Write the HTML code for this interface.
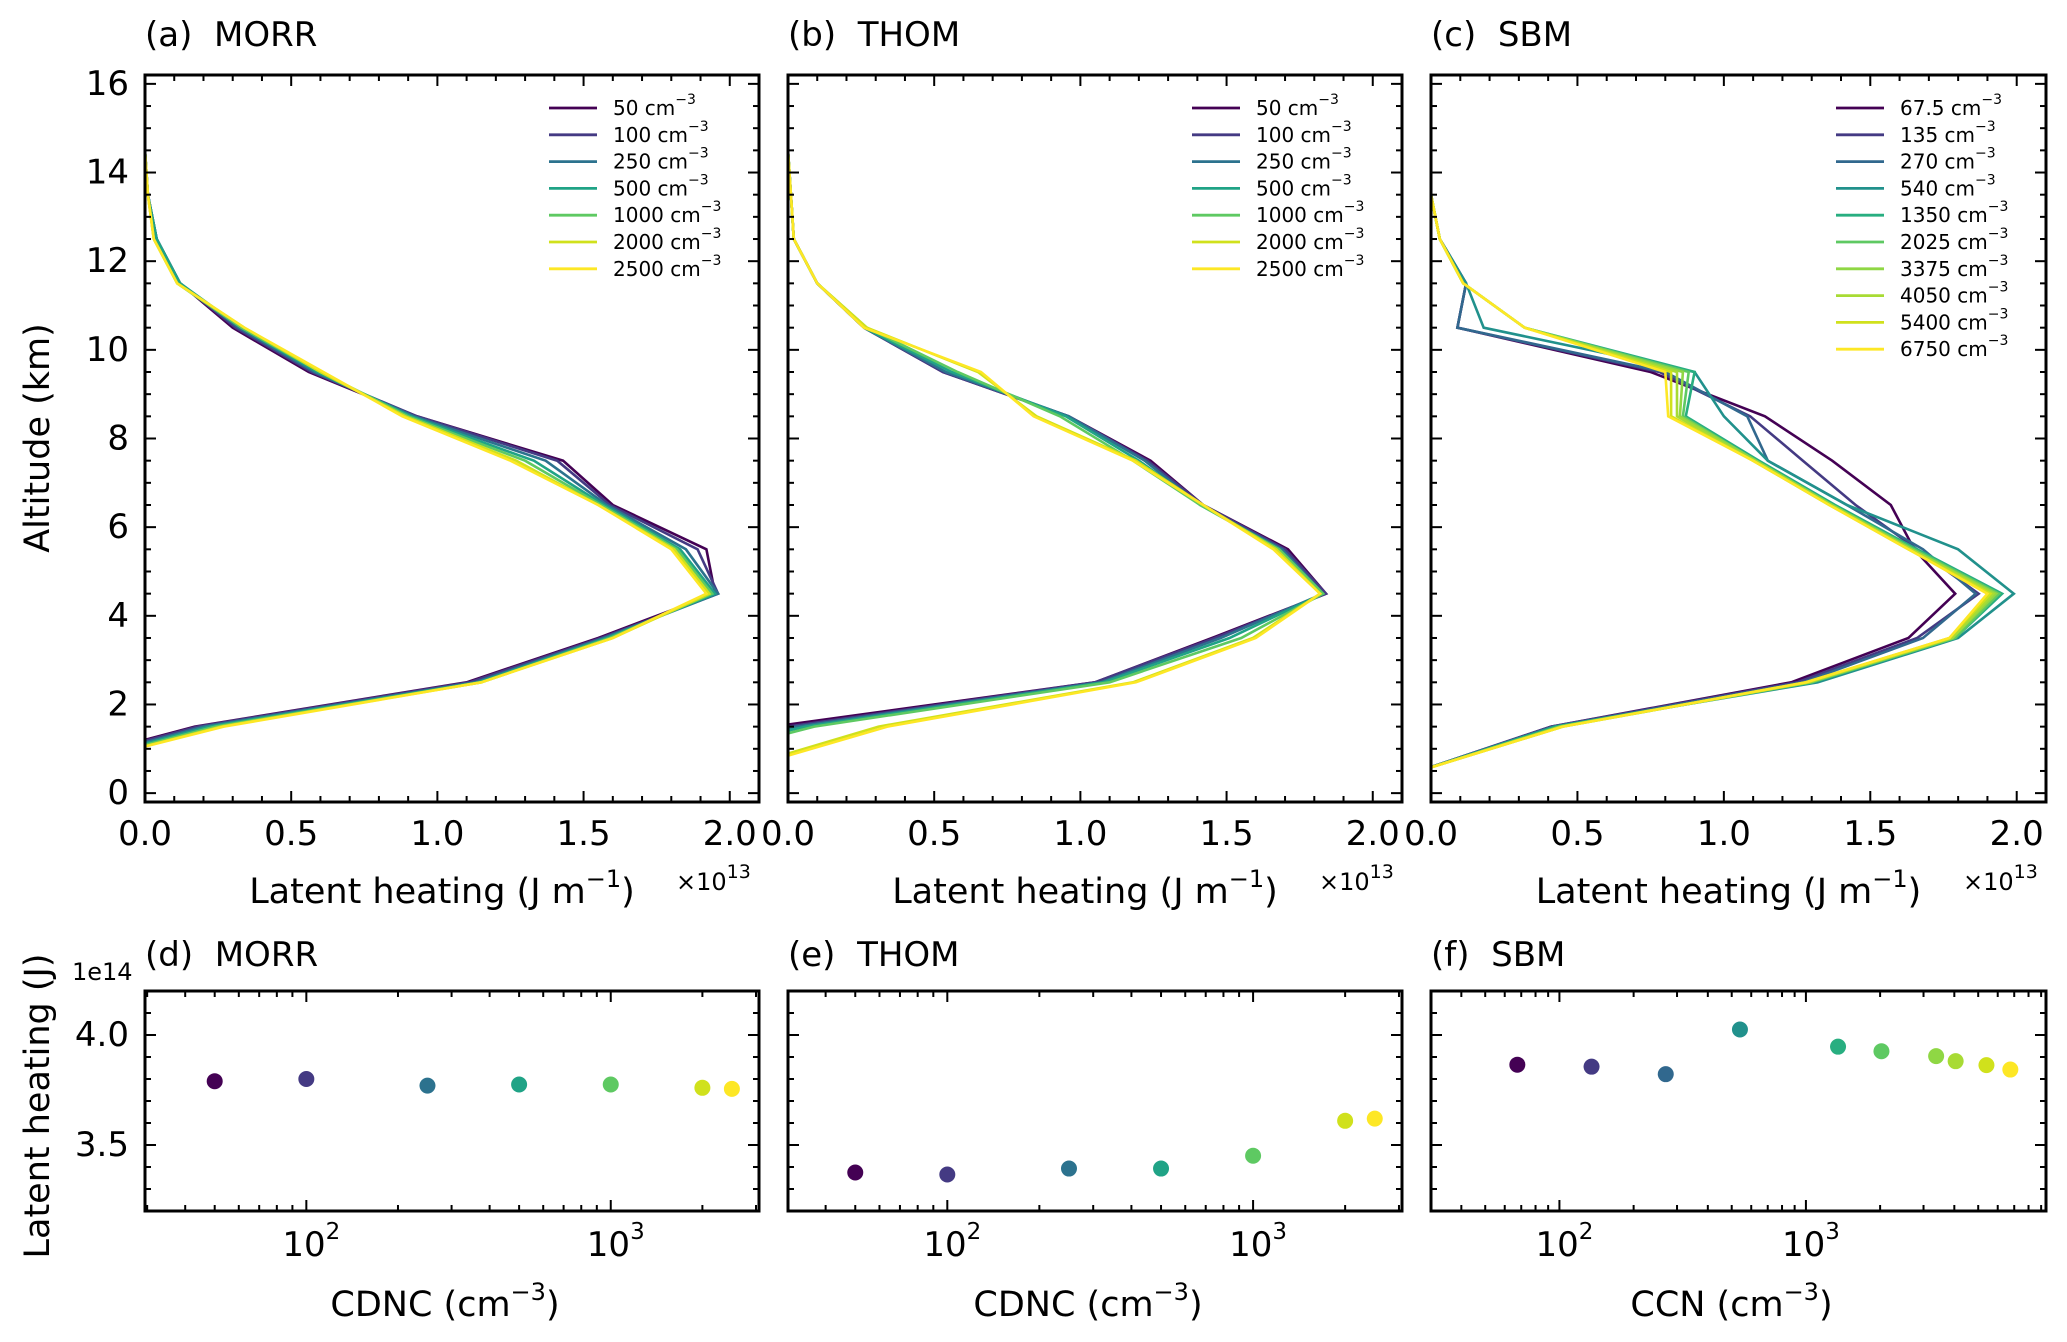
<!DOCTYPE html>
<html><head><meta charset="utf-8"><style>
html,body{margin:0;padding:0;background:#fff;}
svg{display:block;font-family:"DejaVu Sans","Liberation Sans",sans-serif;}
</style></head><body>
<svg id="fig" width="2067" height="1342" viewBox="0 0 2067 1342" xmlns="http://www.w3.org/2000/svg"></svg>
<script>
const levels=[0.5,1.5,2.5,3.5,4.5,5.5,6.5,7.5,8.5,9.5,10.5,11.5,12.5,13.5,14.5,15.5];
const morrLabels=["50","100","250","500","1000","2000","2500"];
const morrColors=["#440154","#443a83","#2c728e","#20a386","#5ec962","#d0e11c","#fde725"];
const morr50=[-0.4,0.17,1.10,1.55,1.95,1.92,1.60,1.43,0.93,0.56,0.30,0.12,0.04,0.01,0,0];
const morr100=[-0.38,0.18,1.11,1.56,1.96,1.89,1.59,1.41,0.93,0.57,0.31,0.12,0.04,0.01,0,0];
const morr250=[-0.36,0.2,1.13,1.57,1.96,1.85,1.58,1.37,0.92,0.58,0.32,0.12,0.04,0.01,0,0];
const morr500=[-0.35,0.22,1.14,1.58,1.95,1.83,1.57,1.33,0.91,0.59,0.33,0.12,0.04,0.01,0,0];
const morr1000=[-0.34,0.24,1.15,1.59,1.94,1.82,1.56,1.30,0.90,0.60,0.33,0.11,0.03,0.01,0,0];
const morr2000=[-0.33,0.26,1.15,1.6,1.93,1.81,1.55,1.27,0.89,0.60,0.34,0.11,0.03,0.01,0,0];
const morr2500=[-0.33,0.27,1.15,1.6,1.92,1.80,1.55,1.25,0.88,0.61,0.34,0.11,0.03,0.01,0,0];
const thom50=[-1.0,-0.05,1.05,1.45,1.84,1.71,1.42,1.24,0.96,0.53,0.26,0.10,0.02,0.01,0,0];
const thom100=[-0.9,0.0,1.05,1.46,1.84,1.70,1.42,1.23,0.96,0.53,0.26,0.10,0.02,0.01,0,0];
const thom250=[-0.8,0.03,1.07,1.48,1.83,1.69,1.41,1.22,0.96,0.54,0.26,0.10,0.02,0.01,0,0];
const thom500=[-0.6,0.06,1.08,1.51,1.83,1.68,1.41,1.20,0.95,0.56,0.26,0.10,0.02,0.01,0,0];
const thom1000=[-0.5,0.09,1.10,1.55,1.83,1.68,1.41,1.18,0.93,0.58,0.27,0.10,0.02,0.01,0,0];
const thom2000=[-0.2,0.31,1.18,1.59,1.82,1.67,1.42,1.19,0.85,0.65,0.27,0.10,0.02,0.01,0,0];
const thom2500=[-0.18,0.34,1.19,1.60,1.82,1.66,1.42,1.18,0.84,0.66,0.26,0.10,0.02,0.01,0,0];
const sbmLabels=["67.5","135","270","540","1350","2025","3375","4050","5400","6750"];
const sbmColors=["#440154","#443a83","#31688e","#21918c","#28ae80","#5ec962","#8fd744","#a8db34","#d0e11c","#fde725"];
const sbm67=[-0.04,0.41,1.23,1.63,1.79,1.65,1.57,1.37,1.14,0.75,0.09,0.12,0.03,0,0,0];
const sbm135=[-0.04,0.41,1.25,1.66,1.87,1.66,1.45,1.27,1.09,0.78,0.09,0.12,0.03,0,0,0];
const sbm270=[-0.04,0.42,1.27,1.68,1.86,1.68,1.42,1.15,1.08,0.80,0.09,0.12,0.03,0,0,0];
const sbm540=[-0.04,0.42,1.32,1.80,1.99,1.80,1.42,1.15,1.00,0.90,0.18,0.12,0.03,0,0,0];
const sbm1350=[-0.04,0.43,1.30,1.79,1.95,1.66,1.38,1.12,0.87,0.90,0.32,0.11,0.03,0,0,0];
const sbm2025=[-0.04,0.44,1.30,1.79,1.94,1.65,1.37,1.11,0.86,0.88,0.32,0.11,0.03,0,0,0];
const sbm3375=[-0.04,0.44,1.29,1.78,1.93,1.64,1.37,1.11,0.85,0.86,0.32,0.11,0.03,0,0,0];
const sbm4050=[-0.04,0.45,1.29,1.78,1.92,1.64,1.36,1.10,0.84,0.84,0.32,0.11,0.03,0,0,0];
const sbm5400=[-0.04,0.45,1.28,1.77,1.91,1.63,1.36,1.10,0.82,0.82,0.32,0.11,0.03,0,0,0];
const sbm6750=[-0.04,0.45,1.28,1.77,1.90,1.63,1.36,1.10,0.81,0.80,0.32,0.11,0.03,0,0,0];
const xTicksTop=["0.0","0.5","1.0","1.5","2.0"];
const yTicksTop=["0","2","4","6","8","10","12","14","16"];
const morrCdnc=[50,100,250,500,1000,2000,2500];
const morrTotal=[3.79,3.80,3.77,3.775,3.775,3.76,3.755];
const thomCdnc=[50,100,250,500,1000,2000,2500];
const thomTotal=[3.375,3.366,3.393,3.393,3.451,3.61,3.62];
const sbmCcn=[67.5,135,270,540,1350,2025,3375,4050,5400,6750];
const sbmTotal=[3.865,3.856,3.822,4.025,3.947,3.926,3.904,3.881,3.863,3.843];
const yTicksBot=["3.5","4.0"];

const NS="http://www.w3.org/2000/svg";
const svg=document.getElementById('fig');
function mk(tag,attrs,parent){const e=document.createElementNS(NS,tag);for(const k in attrs)e.setAttribute(k,attrs[k]);(parent||svg).appendChild(e);return e;}
function txt(s,x,y,size,anchor,parent,name){const t=mk('text',{x:x,y:y,'font-size':size,'text-anchor':anchor||'start','dominant-baseline':'central',fill:'#000'},parent);t.innerHTML=s;


return t;}

const topPanels=[
 {x0:145,x1:759,title:"(a)&#160;&#160;MORR",key:"a",series:[morr50,morr100,morr250,morr500,morr1000,morr2000,morr2500],labels:morrLabels,colors:morrColors,ylab:true},
 {x0:788,x1:1402,title:"(b)&#160;&#160;THOM",key:"b",series:[thom50,thom100,thom250,thom500,thom1000,thom2000,thom2500],labels:morrLabels,colors:morrColors},
 {x0:1431,x1:2046,title:"(c)&#160;&#160;SBM",key:"c",series:[sbm67,sbm135,sbm270,sbm540,sbm1350,sbm2025,sbm3375,sbm4050,sbm5400,sbm6750],labels:sbmLabels,colors:sbmColors}
];
const TY0=75,TY1=802;
topPanels.forEach(p=>{
 const g=mk('g',{});
 
 
 const xs=v=>p.x0+(v-0)/(2.1-0)*(p.x1-p.x0);
 const ys=v=>TY1-(v+0.2)/(16.4)*(TY1-TY0);
 const cid='clip'+p.key;
 const cp=mk('clipPath',{id:cid},g);mk('rect',{x:p.x0,y:TY0,width:p.x1-p.x0,height:TY1-TY0},cp);
 const lg=mk('g',{'clip-path':'url(#'+cid+')'},g);
 p.series.forEach((s,i)=>{
  const pts=s.map((v,j)=>xs(v).toFixed(1)+','+ys(levels[j]).toFixed(1)).join(' ');
  const pl=mk('polyline',{points:pts,fill:'none',stroke:p.colors[i],'stroke-width':2.6,'stroke-linejoin':'miter'},lg);
  
  
 });
 for(let k=0;k<=21;k++){const v=k*0.1;const x=xs(v);const maj=(k%5===0);const L=maj?11:6;
  mk('line',{x1:x,y1:TY1,x2:x,y2:TY1-L,stroke:'#000','stroke-width':2},g);
  mk('line',{x1:x,y1:TY0,x2:x,y2:TY0+L,stroke:'#000','stroke-width':2},g);}
 xTicksTop.forEach((s,i)=>txt(s,xs(i*0.5),834,34,'middle',g,'x-tick-label'));
 for(let k=0;k<=32;k++){const v=k*0.5;const y=ys(v);const maj=(k%4===0);const L=maj?11:6;
  mk('line',{x1:p.x0,y1:y,x2:p.x0+L,y2:y,stroke:'#000','stroke-width':2},g);
  mk('line',{x1:p.x1,y1:y,x2:p.x1-L,y2:y,stroke:'#000','stroke-width':2},g);}
 if(p.ylab) yTicksTop.forEach((s,i)=>txt(s,129,ys(i*2),34,'end',g,'y-tick-label'));
 const fr=mk('rect',{x:p.x0,y:TY0,width:p.x1-p.x0,height:TY1-TY0,fill:'none',stroke:'#000','stroke-width':3},g);
 
 
 txt(p.title,p.x0,35,34,'start',g,'panel-title');
 txt('Latent heating (J m<tspan font-size="24" dy="-13">−1</tspan><tspan dy="13">)</tspan>',(p.x0+p.x1)/2-10,892,35,'middle',g,'x-axis-title');
 txt('×10<tspan font-size="19" dy="-10">13</tspan>',p.x1-83,882,24,'start',g,'x-offset-label');
 const lx=p.key==='c'?1836:p.x0+404;
 p.labels.forEach((s,i)=>{const y=108+i*26.8;
  const l=mk('line',{x1:lx,y1:y,x2:lx+48,y2:y,stroke:p.colors[i],'stroke-width':2.8},g);
  
  
  txt(s+' cm<tspan font-size="14" dy="-8">−3</tspan>',lx+64,y,20,'start',g,'legend-entry');});
});
txt('Altitude (km)',0,0,35,'middle',svg,'y-axis-title').setAttribute('transform','translate(38,438) rotate(-90)');

const botPanels=[
 {x0:145,x1:759,lmin:1.47,lmax:3.487,title:"(d)&#160;&#160;MORR",key:"d",xv:morrCdnc,yv:morrTotal,colors:morrColors,xl:'CDNC',ylab:true},
 {x0:788,x1:1402,lmin:1.479,lmax:3.487,title:"(e)&#160;&#160;THOM",key:"e",xv:thomCdnc,yv:thomTotal,colors:morrColors,xl:'CDNC'},
 {x0:1431,x1:2046,lmin:1.479,lmax:3.974,title:"(f)&#160;&#160;SBM",key:"f",xv:sbmCcn,yv:sbmTotal,colors:sbmColors,xl:'CCN'}
];
const BY0=991,BY1=1211;
botPanels.forEach(p=>{
 const g=mk('g',{});
 
 
 const xs=v=>p.x0+(Math.log10(v)-p.lmin)/(p.lmax-p.lmin)*(p.x1-p.x0);
 const ys=v=>BY1-(v-3.2)/(1.0)*(BY1-BY0);
 for(let d=1;d<=3;d++){for(let m=1;m<=9;m++){const v=m*Math.pow(10,d);const lv=Math.log10(v);if(lv<p.lmin||lv>p.lmax)continue;
  const x=xs(v);const L=(m===1)?11:6;
  mk('line',{x1:x,y1:BY1,x2:x,y2:BY1-L,stroke:'#000','stroke-width':2},g);
  mk('line',{x1:x,y1:BY0,x2:x,y2:BY0+L,stroke:'#000','stroke-width':2},g);
  if(m===1) txt('10<tspan font-size="23" dy="-13">'+d+'</tspan>',x+5,1245,34,'middle',g,'x-tick-label');}}
 for(let k=0;k<=10;k++){const v=3.2+k*0.1;const y=ys(v);const maj=(k===3||k===8);const L=maj?11:6;
  mk('line',{x1:p.x0,y1:y,x2:p.x0+L,y2:y,stroke:'#000','stroke-width':2},g);
  mk('line',{x1:p.x1,y1:y,x2:p.x1-L,y2:y,stroke:'#000','stroke-width':2},g);}
 if(p.ylab){yTicksBot.forEach(s=>txt(s,129,ys(parseFloat(s)),34,'end',g,'y-tick-label'));
  txt('1e14',72,972,24,'start',g,'y-offset-label');}
 p.xv.forEach((v,i)=>{const c=mk('circle',{cx:xs(v),cy:ys(p.yv[i]),r:8,fill:p.colors[i]},g);
  
  });
 const fr=mk('rect',{x:p.x0,y:BY0,width:p.x1-p.x0,height:BY1-BY0,fill:'none',stroke:'#000','stroke-width':3},g);
 
 
 txt(p.title,p.x0,955,34,'start',g,'panel-title');
 txt(p.xl+' (cm<tspan font-size="24" dy="-13">−3</tspan><tspan dy="13">)</tspan>',(p.x0+p.x1)/2-7,1305,35,'middle',g,'x-axis-title');
});
txt('Latent heating (J)',0,0,35,'middle',svg,'y-axis-title-bottom').setAttribute('transform','translate(38,1106) rotate(-90)');
</script>
</body></html>
